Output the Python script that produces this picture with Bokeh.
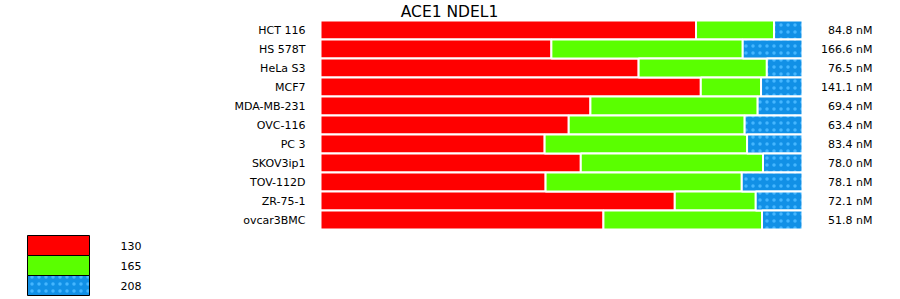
from bokeh.plotting import figure
from bokeh.models import ColumnDataSource, Range1d, Label
from bokeh.core.properties import value
from bokeh.embed import file_html
from bokeh.resources import INLINE

# ---- data ----
cell_lines = ["HCT 116", "HS 578T", "HeLa S3", "MCF7", "MDA-MB-231", "OVC-116",
              "PC 3", "SKOV3ip1", "TOV-112D", "ZR-75-1", "ovcar3BMC"]
share_130 = [77.9, 47.9, 66.0, 78.9, 56.0, 51.5, 46.5, 54.0, 46.7, 73.5, 58.7]
share_165 = [16.2, 39.7, 26.6, 12.5, 34.7, 36.5, 42.0, 37.8, 40.7, 16.8, 32.9]
share_208 = [5.9, 12.4, 7.4, 8.6, 9.3, 12.0, 11.5, 8.2, 12.6, 9.7, 8.4]
totals = ["84.8 nM", "166.6 nM", "76.5 nM", "141.1 nM", "69.4 nM", "63.4 nM",
          "83.4 nM", "78.0 nM", "78.1 nM", "72.1 nM", "51.8 nM"]
series_names = ["130", "165", "208"]
title_text = "ACE1 NDEL1"

# ---- layout / style ----
W, H = 900, 299
PX_LEFT, PX_PER_UNIT = 320.0, 4.82      # x: 0% at px 320, 4.82 px per %
ROW_TOP, ROW_PITCH = 29.5, 19.0         # y: row 0 center at px 29.5
FONT = "DejaVu Sans"
RED, GREEN, BLUE, BLUE_DOT = "#ff0000", "#5aff00", "#1190e6", "#45b6ff"
HATCH = dict(hatch_pattern="dot", hatch_color=BLUE_DOT, hatch_scale=7, hatch_weight=4)


def px_x(px):
    return (px - PX_LEFT) / PX_PER_UNIT


def px_y(px):
    return (px - ROW_TOP) / ROW_PITCH


p = figure(width=W, height=H, output_backend="svg", toolbar_location=None,
           x_range=Range1d(px_x(0), px_x(W)), y_range=Range1d(px_y(H), px_y(0)),
           min_border=0, min_border_left=0, min_border_right=0,
           min_border_top=0, min_border_bottom=0)
p.xaxis.visible = False
p.yaxis.visible = False
p.grid.visible = False
p.outline_line_color = None
p.background_fill_color = "white"
p.border_fill_color = "white"

rows = list(range(len(cell_lines)))
right1 = share_130
right2 = [a + b for a, b in zip(share_130, share_165)]
right3 = [a + b + c for a, b, c in zip(share_130, share_165, share_208)]

src = ColumnDataSource(dict(y=rows, l1=[0.0] * len(rows), r1=right1, l2=right1, r2=right2,
                            l3=right2, r3=right3, name=cell_lines, total=totals,
                            name_x=[px_x(305)] * len(rows),
                            total_x=[px_x(872)] * len(rows)))

p.hbar(y="y", left="l1", right="r1", height=1.0, source=src,
       fill_color=RED, line_color="white", line_width=2)
p.hbar(y="y", left="l2", right="r2", height=1.0, source=src,
       fill_color=GREEN, line_color="white", line_width=2)
p.hbar(y="y", left="l3", right="r3", height=1.0, source=src,
       fill_color=BLUE, line_color="white", line_width=2, **HATCH)

p.text(x="name_x", y="y", text="name", source=src, text_align="right",
       text_baseline="middle", text_font=value(FONT), text_font_size="11px",
       text_color="black")
p.text(x="total_x", y="y", text="total", source=src, text_align="right",
       text_baseline="middle", text_font=value(FONT), text_font_size="11px",
       text_color="black")

# ---- legend (swatches laid out in pixel positions) ----
leg_centers = [245, 265, 285]
leg_x = [px_x(58)] * 3
leg_y = [px_y(c) for c in leg_centers]
leg_src = ColumnDataSource(dict(tx=[px_x(120)] * 3, y=leg_y, label=series_names))
sw_colors = [RED, GREEN, BLUE]
for i, col in enumerate(sw_colors):
    extra = HATCH if i == 2 else {}
    p.rect(x=[leg_x[i]], y=[leg_y[i]], width=62, height=20,
           width_units="screen", height_units="screen",
           fill_color=col, line_color="black", line_width=1, **extra)
p.text(x="tx", y="y", text="label", source=leg_src, text_align="left",
       text_baseline="middle", text_font=value(FONT), text_font_size="11px",
       text_color="black")

title = Label(x=449, y=H - 11, x_units="screen", y_units="screen", text=title_text,
              text_align="center", text_baseline="middle", text_font=FONT,
              text_font_size="15.5px", text_color="black")
p.add_layout(title)

open("out.html", "w").write(file_html(p, INLINE))
